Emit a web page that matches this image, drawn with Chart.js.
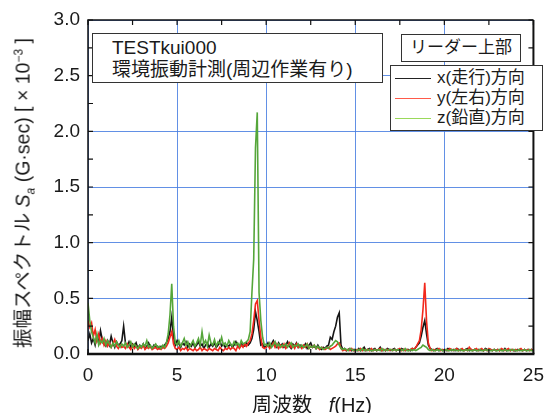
<!DOCTYPE html>
<html>
<head>
<meta charset="utf-8">
<script src="https://cdn.jsdelivr.net/npm/chart.js@4/dist/chart.umd.min.js"></script>
<style>
  body { margin: 0; background: #fff; }
  #wrap { position: relative; width: 554px; height: 413px; font-family: "Liberation Sans", "Noto Sans CJK JP", sans-serif; color: #1a1a1a; }
  canvas { position: absolute; left: 0; top: 0; }
  .box { position: absolute; background: #fff; border: 1.5px solid #333; box-sizing: border-box; white-space: nowrap; }
  #note { left: 92px; top: 33px; width: 291px; height: 50px; padding: 3px 0 0 19px; font-size: 19px; line-height: 22px; }
  #place { left: 401px; top: 34px; width: 120px; height: 28px; font-size: 17px; line-height: 25px; text-align: center; }
  #legend { left: 390px; top: 65px; width: 153px; height: 66px; padding: 2px 0 0 4px; font-size: 17px; line-height: 20px; }
  #legend .row { display: flex; align-items: center; }
  #legend .swatch { display: inline-block; width: 36px; height: 0; border-top: 1.5px solid; margin-right: 6px; }
  #ytitle { position: absolute; left: 22px; top: 193px; transform: translate(-50%, -50%) rotate(-90deg); white-space: nowrap; font-size: 19.5px; }
  #xtitle { position: absolute; left: 252px; top: 389px; white-space: nowrap; font-size: 20px; }
</style>
</head>
<body>
<div id="wrap">
  <canvas id="spec_chart" width="554" height="413"></canvas>
  <div id="ytitle">振幅スペクトル <i>S</i><sub style="font-size:12px"><i>a</i></sub> (G·sec) [ × 10<sup style="font-size:12px">−3</sup> ]</div>
  <div id="xtitle">周波数&nbsp;&nbsp;&nbsp;<i>f</i>(Hz)</div>
  <div class="box" id="note">TESTkui000<br>環境振動計測(周辺作業有り)</div>
  <div class="box" id="place">リーダー上部</div>
  <div class="box" id="legend"></div>
</div>
<script>
// amplitude spectra, 0.1 Hz steps from 0 to 25 Hz
const seriesNames = ['x(走行)方向', 'y(左右)方向', 'z(鉛直)方向'];

const specX = [
  0.12,0.18,0.10,0.14,0.08,0.16,0.10,0.21,0.13,0.09,
  0.07,0.12,0.08,0.16,0.10,0.06,0.11,0.08,0.09,0.12,
  0.25,0.10,0.07,0.11,0.06,0.09,0.07,0.10,0.05,0.08,
  0.06,0.09,0.05,0.07,0.10,0.06,0.05,0.08,0.06,0.07,
  0.05,0.07,0.06,0.08,0.10,0.14,0.20,0.33,0.15,0.08,
  0.12,0.09,0.06,0.10,0.08,0.11,0.06,0.09,0.07,0.10,
  0.06,0.08,0.11,0.07,0.09,0.05,0.08,0.10,0.06,0.09,
  0.07,0.10,0.06,0.08,0.12,0.07,0.09,0.06,0.08,0.07,
  0.09,0.06,0.08,0.11,0.07,0.06,0.09,0.08,0.07,0.10,
  0.08,0.10,0.14,0.22,0.38,0.30,0.20,0.08,0.09,0.06,
  0.07,0.10,0.06,0.09,0.12,0.08,0.06,0.10,0.07,0.09,
  0.06,0.08,0.11,0.07,0.05,0.09,0.07,0.10,0.06,0.08,
  0.07,0.06,0.09,0.05,0.08,0.10,0.06,0.07,0.05,0.08,
  0.05,0.04,0.06,0.05,0.07,0.08,0.15,0.13,0.20,0.25,
  0.33,0.37,0.08,0.04,0.05,0.03,0.04,0.05,0.03,0.04,
  0.04,0.03,0.05,0.03,0.04,0.06,0.03,0.04,0.05,0.03,
  0.04,0.05,0.03,0.04,0.06,0.03,0.04,0.03,0.05,0.04,
  0.03,0.04,0.05,0.03,0.04,0.03,0.05,0.04,0.03,0.04,
  0.04,0.03,0.05,0.04,0.06,0.08,0.10,0.16,0.24,0.30,
  0.18,0.08,0.05,0.04,0.03,0.04,0.05,0.03,0.04,0.03,
  0.04,0.03,0.05,0.04,0.03,0.04,0.03,0.05,0.04,0.03,
  0.04,0.03,0.04,0.05,0.03,0.04,0.03,0.04,0.03,0.04,
  0.03,0.04,0.03,0.05,0.04,0.03,0.04,0.03,0.04,0.03,
  0.04,0.03,0.04,0.03,0.05,0.03,0.04,0.03,0.04,0.03,
  0.03,0.04,0.03,0.04,0.03,0.04,0.03,0.04,0.03,0.04,
  0.03
];

const specY = [
  0.30,0.24,0.28,0.16,0.22,0.12,0.18,0.10,0.14,0.08,
  0.12,0.07,0.10,0.06,0.09,0.13,0.07,0.05,0.08,0.06,
  0.07,0.05,0.09,0.06,0.04,0.08,0.05,0.07,0.04,0.06,
  0.05,0.08,0.04,0.06,0.05,0.07,0.04,0.05,0.06,0.04,
  0.05,0.04,0.06,0.05,0.07,0.10,0.15,0.20,0.09,0.05,
  0.04,0.06,0.03,0.05,0.04,0.06,0.03,0.05,0.04,0.03,
  0.05,0.03,0.04,0.06,0.03,0.05,0.04,0.03,0.05,0.04,
  0.03,0.05,0.04,0.03,0.06,0.04,0.03,0.05,0.04,0.06,
  0.04,0.06,0.05,0.03,0.07,0.05,0.08,0.06,0.09,0.07,
  0.10,0.12,0.18,0.30,0.45,0.48,0.30,0.15,0.06,0.05,
  0.06,0.08,0.05,0.07,0.10,0.06,0.09,0.05,0.08,0.06,
  0.09,0.05,0.07,0.10,0.06,0.08,0.05,0.09,0.06,0.07,
  0.05,0.08,0.06,0.09,0.05,0.07,0.06,0.08,0.05,0.06,
  0.04,0.06,0.05,0.04,0.05,0.06,0.04,0.05,0.06,0.07,
  0.09,0.10,0.05,0.03,0.04,0.03,0.04,0.03,0.05,0.03,
  0.03,0.04,0.03,0.05,0.03,0.04,0.03,0.04,0.03,0.05,
  0.03,0.04,0.03,0.04,0.05,0.03,0.04,0.03,0.04,0.03,
  0.04,0.03,0.04,0.03,0.04,0.05,0.03,0.04,0.03,0.04,
  0.03,0.04,0.05,0.04,0.06,0.09,0.12,0.22,0.40,0.64,
  0.30,0.10,0.05,0.03,0.04,0.03,0.04,0.05,0.03,0.04,
  0.03,0.04,0.03,0.05,0.04,0.03,0.04,0.05,0.03,0.04,
  0.05,0.03,0.04,0.03,0.06,0.04,0.03,0.04,0.05,0.03,
  0.04,0.05,0.03,0.04,0.03,0.05,0.04,0.03,0.04,0.03,
  0.04,0.03,0.05,0.04,0.03,0.04,0.05,0.03,0.04,0.03,
  0.04,0.03,0.04,0.05,0.03,0.04,0.03,0.04,0.03,0.04,
  0.03
];

const specZ = [
  0.46,0.30,0.20,0.15,0.10,0.18,0.08,0.12,0.10,0.14,
  0.08,0.12,0.09,0.06,0.10,0.07,0.11,0.08,0.06,0.09,
  0.07,0.10,0.06,0.08,0.11,0.06,0.09,0.07,0.05,0.08,
  0.06,0.09,0.07,0.12,0.06,0.08,0.05,0.07,0.09,0.06,
  0.07,0.05,0.08,0.06,0.10,0.18,0.35,0.63,0.25,0.10,
  0.08,0.12,0.07,0.10,0.14,0.08,0.11,0.06,0.09,0.12,
  0.07,0.10,0.14,0.08,0.20,0.09,0.12,0.07,0.17,0.10,
  0.08,0.13,0.07,0.11,0.09,0.15,0.08,0.10,0.07,0.12,
  0.09,0.07,0.11,0.08,0.10,0.07,0.12,0.09,0.10,0.11,
  0.13,0.20,0.55,0.85,1.85,2.17,0.55,0.30,0.15,0.08,
  0.09,0.07,0.10,0.06,0.08,0.11,0.07,0.09,0.06,0.08,
  0.07,0.09,0.06,0.08,0.10,0.06,0.08,0.07,0.09,0.06,
  0.08,0.06,0.07,0.09,0.05,0.07,0.06,0.08,0.05,0.07,
  0.05,0.06,0.04,0.05,0.06,0.05,0.07,0.08,0.10,0.12,
  0.11,0.08,0.05,0.04,0.05,0.04,0.03,0.05,0.04,0.03,
  0.04,0.03,0.04,0.03,0.05,0.03,0.04,0.03,0.04,0.03,
  0.03,0.04,0.03,0.04,0.03,0.05,0.03,0.04,0.03,0.04,
  0.04,0.03,0.04,0.03,0.04,0.03,0.04,0.03,0.05,0.03,
  0.03,0.04,0.03,0.04,0.03,0.04,0.05,0.06,0.08,0.07,
  0.06,0.04,0.03,0.04,0.03,0.03,0.04,0.03,0.04,0.03,
  0.03,0.04,0.03,0.03,0.04,0.03,0.04,0.03,0.03,0.04,
  0.03,0.03,0.04,0.03,0.04,0.03,0.03,0.04,0.03,0.03,
  0.04,0.03,0.03,0.04,0.03,0.04,0.03,0.03,0.04,0.03,
  0.03,0.04,0.03,0.03,0.04,0.03,0.03,0.04,0.03,0.04,
  0.03,0.03,0.04,0.03,0.03,0.04,0.03,0.03,0.04,0.03,
  0.03
];

// sampling grid of the spectrum (Hz)
const freq = specX.map((_, i) => +(i * 0.1).toFixed(1));

const xTickMarks = [0, 2.5, 5, 7.5, 10, 12.5, 15, 17.5, 20, 22.5, 25];
const yTickMarks = [0, 0.25, 0.5, 0.75, 1, 1.25, 1.5, 1.75, 2, 2.25, 2.5, 2.75, 3];

const lineColors = ['#151515', '#f2281c', '#55a63a'];
const legendColors = ['#222222', '#ff5a4a', '#9ad95a'];

const toPoints = vals => vals.map((v, i) => ({ x: freq[i], y: v }));

// frame + inward tick marks like the original plot
const framePlugin = {
  id: 'frame',
  afterDatasetsDraw(chart) {
    const { ctx, chartArea: a, scales: { x, y } } = chart;
    ctx.save();
    ctx.strokeStyle = '#111';
    ctx.lineWidth = 1.2;
    ctx.beginPath();
    xTickMarks.forEach(v => {
      const px = x.getPixelForValue(v);
      ctx.moveTo(px, a.top); ctx.lineTo(px, a.top + 5);
      ctx.moveTo(px, a.bottom); ctx.lineTo(px, a.bottom - 5);
    });
    yTickMarks.forEach(v => {
      const py = y.getPixelForValue(v);
      ctx.moveTo(a.left, py); ctx.lineTo(a.left + 5, py);
      ctx.moveTo(a.right, py); ctx.lineTo(a.right - 5, py);
    });
    ctx.stroke();
    ctx.lineWidth = 1.5;
    ctx.beginPath();
    ctx.moveTo(a.left, a.bottom); ctx.lineTo(a.left, a.top); ctx.lineTo(a.right, a.top);
    ctx.stroke();
    ctx.lineWidth = 2;
    ctx.beginPath();
    ctx.moveTo(a.right, a.top); ctx.lineTo(a.right, a.bottom);
    ctx.stroke();
    ctx.lineWidth = 2.5;
    ctx.beginPath();
    ctx.moveTo(a.left - 1, a.bottom); ctx.lineTo(a.right + 1, a.bottom);
    ctx.stroke();
    ctx.restore();
  }
};

const spec_ctx = document.getElementById('spec_chart').getContext('2d');

new Chart(spec_ctx, {
  type: 'line',
  data: {
    datasets: [
      { label: seriesNames[0], data: toPoints(specX), borderColor: lineColors[0], order: 2 },
      { label: seriesNames[1], data: toPoints(specY), borderColor: lineColors[1], order: 1 },
      { label: seriesNames[2], data: toPoints(specZ), borderColor: lineColors[2], order: 0 }
    ]
  },
  options: {
    responsive: false,
    animation: false,
    devicePixelRatio: 1,
    datasets: { line: { borderWidth: 1.6, pointRadius: 0, tension: 0 } },
    layout: { padding: { top: 20, right: 11, left: 0, bottom: 0 } },
    plugins: { legend: { display: false }, tooltip: { enabled: false } },
    scales: {
      x: {
        type: 'linear',
        min: 0, max: 25,
        afterFit: s => { s.height = 59; },
        border: { display: false },
        grid: { color: 'rgba(70,125,225,0.85)', lineWidth: 1, drawTicks: false },
        ticks: { stepSize: 5, padding: 10, color: '#1a1a1a', font: { family: 'Liberation Sans', size: 19 } }
      },
      y: {
        min: 0, max: 3,
        afterFit: s => { s.width = 88; },
        border: { display: false },
        grid: { color: 'rgba(70,125,225,0.85)', lineWidth: 1, drawTicks: false },
        ticks: { stepSize: 0.5, padding: 8, color: '#1a1a1a', font: { family: 'Liberation Sans', size: 19 },
          callback: v => v.toFixed(1) }
      }
    }
  },
  plugins: [framePlugin]
});

// legend box
const legendBox = document.getElementById('legend');
seriesNames.forEach((name, i) => {
  const row = document.createElement('div');
  row.className = 'row';
  const sw = document.createElement('span');
  sw.className = 'swatch';
  sw.style.borderTopColor = legendColors[i];
  const txt = document.createElement('span');
  txt.textContent = name;
  row.appendChild(sw);
  row.appendChild(txt);
  legendBox.appendChild(row);
});
</script>
</body>
</html>
